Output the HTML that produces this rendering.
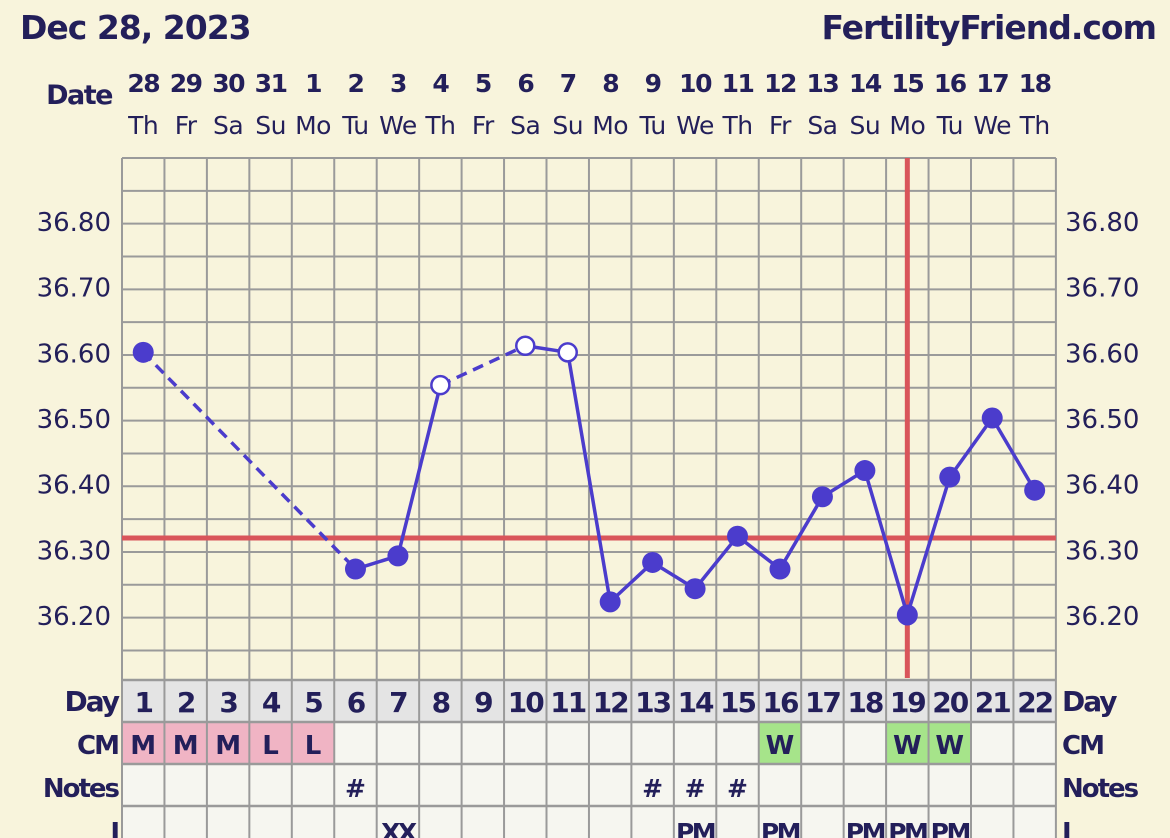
<!DOCTYPE html>
<html><head><style>
html,body{margin:0;padding:0;background:#f8f4dc;}
svg{display:block;font-family:"DejaVu Sans","Liberation Sans",sans-serif;}
</style></head><body>
<svg width="1170" height="838" viewBox="0 0 1170 838" xmlns="http://www.w3.org/2000/svg">
<rect width="1170" height="838" fill="#f8f4dc"/>
<g fill="#231f5a">
<text x="20" y="39" font-size="33" font-weight="bold" letter-spacing="-1">Dec 28, 2023</text>
<text x="1156" y="39" font-size="33" font-weight="bold" text-anchor="end" letter-spacing="-1">FertilityFriend.com</text>
<text x="112" y="104" font-size="27" font-weight="bold" text-anchor="end" letter-spacing="-1.5">Date</text>
</g>
<g id="hdr" fill="#231f5a" text-anchor="middle"></g>
<g id="grid"></g>
<g id="rows"></g>
<g id="lbl" fill="#231f5a"></g>
<g id="data"></g>
</svg>
<script>
var NS="http://www.w3.org/2000/svg";
function el(p,t,a,txt){var e=document.createElementNS(NS,t);for(var k in a)e.setAttribute(k,a[k]);if(txt!==undefined)e.textContent=txt;document.getElementById(p).appendChild(e);return e;}
var L=122,W=42.45,N=22;
function X(d){return L+(d-0.5)*W;}
function Y(t){return 615-(t-36.2)*656.7;}
var dates=["28","29","30","31","1","2","3","4","5","6","7","8","9","10","11","12","13","14","15","16","17","18"];
var wd=["Th","Fr","Sa","Su","Mo","Tu","We","Th","Fr","Sa","Su","Mo","Tu","We","Th","Fr","Sa","Su","Mo","Tu","We","Th"];
for(var i=0;i<N;i++){
 el("hdr","text",{x:X(i+1),y:92,"font-size":25,"font-weight":"bold","letter-spacing":"-1.5"},dates[i]);
 el("hdr","text",{x:X(i+1),y:134,"font-size":25,"letter-spacing":"-0.5"},wd[i]);
}
el("grid","rect",{x:L,y:158,width:N*W,height:522,fill:"#f8f4dc"});
for(var k=0;k<=15;k++){var y=158+k*32.83;el("grid","line",{x1:L,x2:L+N*W,y1:y,y2:y,stroke:"#9a9a9a","stroke-width":2});}
var RY=[680,722,764,806,848];
var cm={1:"M",2:"M",3:"M",4:"L",5:"L",16:"W",19:"W",20:"W"};
var notes={6:"#",13:"#",14:"#",15:"#"};
var last={7:"XX",14:"PM",16:"PM",18:"PM",19:"PM",20:"PM"};
for(var d=1;d<=N;d++){
 var x0=L+(d-1)*W;
 el("rows","rect",{x:x0,y:680,width:W,height:42,fill:"#e4e4e4"});
 var c=cm[d];var f=c?(c=="W"?"#a6e48a":"#f0b4c4"):"#f6f6f0";
 el("rows","rect",{x:x0,y:722,width:W,height:42,fill:f});
 el("rows","rect",{x:x0,y:764,width:W,height:42,fill:"#f6f6f0"});
 el("rows","rect",{x:x0,y:806,width:W,height:40,fill:"#f6f6f0"});
 el("lbl","text",{x:X(d),y:712,"font-size":28,"font-weight":"bold","text-anchor":"middle","letter-spacing":"-2"},String(d));
 if(c)el("lbl","text",{x:X(d),y:754,"font-size":26,"font-weight":"bold","text-anchor":"middle"},c);
 if(notes[d])el("lbl","text",{x:X(d),y:797,"font-size":25,"font-weight":"bold","text-anchor":"middle"},notes[d]);
 if(last[d])el("lbl","text",{x:X(d),y:841,"font-size":25,"font-weight":"bold","text-anchor":"middle","letter-spacing":"-2.5"},last[d]);
}
for(var j=0;j<RY.length;j++)el("rows","line",{x1:L,x2:L+N*W,y1:RY[j],y2:RY[j],stroke:"#9a9a9a","stroke-width":2.5});
for(var d=0;d<=N;d++){var x=L+d*W;el("rows","line",{x1:x,x2:x,y1:158,y2:838,stroke:"#9a9a9a","stroke-width":2});}
var rl=[["Day",711,28],["CM",754,26],["Notes",797,26],["I",841,26]];
rl.forEach(function(r){
 el("lbl","text",{x:118,y:r[1],"font-size":r[2],"font-weight":"bold","text-anchor":"end","letter-spacing":"-2"},r[0]);
 el("lbl","text",{x:1062,y:r[1],"font-size":r[2],"font-weight":"bold","letter-spacing":"-2"},r[0]);
});
for(var t=0;t<7;t++){var v=36.2+t*0.1;var yy=Y(v)+10;
 el("lbl","text",{x:111,y:yy,"font-size":26,"text-anchor":"end"},v.toFixed(2));
 el("lbl","text",{x:1065,y:yy,"font-size":26},v.toFixed(2));
}
el("data","line",{x1:L,x2:L+N*W,y1:538,y2:538,stroke:"#d9555a","stroke-width":5});
el("data","line",{x1:X(19),x2:X(19),y1:158,y2:678,stroke:"#d9555a","stroke-width":5});
var pts=[[1,36.60,1],[6,36.27,1],[7,36.29,1],[8,36.55,0],[10,36.61,0],[11,36.60,0],[12,36.22,1],[13,36.28,1],[14,36.24,1],[15,36.32,1],[16,36.27,1],[17,36.38,1],[18,36.42,1],[19,36.20,1],[20,36.41,1],[21,36.50,1],[22,36.39,1]];
for(var i=0;i<pts.length-1;i++){var a=pts[i],b=pts[i+1];var dash=(b[0]-a[0]>1);
 var at={x1:X(a[0]),y1:Y(a[1]),x2:X(b[0]),y2:Y(b[1]),stroke:"#4b3ccc","stroke-width":3.5};
 if(dash)at["stroke-dasharray"]="11,7";
 el("data","line",at);}
pts.forEach(function(p){
 if(p[2])el("data","circle",{cx:X(p[0]),cy:Y(p[1]),r:10.5,fill:"#4b3ccc"});
 else el("data","circle",{cx:X(p[0]),cy:Y(p[1]),r:9,fill:"#ffffff",stroke:"#4b3ccc","stroke-width":2.5});
});
</script>
</body></html>
